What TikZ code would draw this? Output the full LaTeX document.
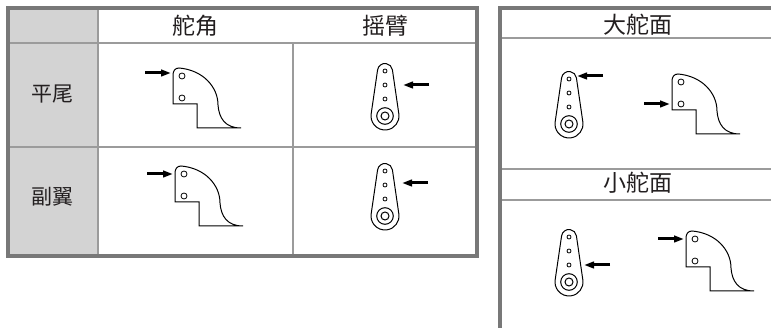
\documentclass[tikz,border=0pt]{standalone}
\usepackage{fontspec}
\setmainfont{Noto Sans CJK SC}
\usetikzlibrary{arrows.meta}

\definecolor{framegray}{RGB}{120,120,120}
\definecolor{linegray}{RGB}{155,155,155}
\definecolor{cellgray}{RGB}{211,211,211}
\definecolor{textdark}{RGB}{35,31,32}

\begin{document}
\begin{tikzpicture}[x=1pt, y=-1pt,
    every node/.style={font=\fontsize{23}{23}\selectfont, text=textdark, inner sep=0pt},
    frame/.style={draw=framegray, line width=4pt},
    grid/.style={draw=linegray, line width=1.3pt},
    push/.style={-{Triangle[length=10pt,width=6.5pt]}, line width=3pt},
    horn/.pic={
      \draw[line width=1pt] (-9,28) -- (15,28) -- (15,52) -- (59,52)
        .. controls (43,52) and (37,42) .. (36,29)
        .. controls (36,11) and (21,-6) .. (-3,-8)
        .. controls (-7,-8) and (-9,-5) .. (-9,-1) -- cycle;
      \draw[line width=0.8pt] (0,0) circle (3) (0,22) circle (3);
    },
    arm/.pic={
      \draw[line width=1pt] (188.3:7.5) arc[start angle=188.3, end angle=351.7, radius=7.5]
        -- (13.85,42.98) arc[start angle=-8.3, end angle=188.3, radius=14] -- cycle;
      \draw[line width=0.8pt] (0,0) circle (2) (0,14) circle (2) (0,28) circle (2);
      \draw[line width=1pt] (0,45) circle (8.3) (0,45) circle (4);
    }]
    \useasboundingbox (0,0) rectangle (771,328);

    % Left table: grey column, grid and frame
    \fill[cellgray] (8,8.5) rectangle (98,256.5);
    \draw[grid] (8,43) -- (477,43) (8,147) -- (477,147);
    \draw[grid] (98,8.5) -- (98,256.5) (293,43) -- (293,256.5);
    \draw[frame] (8,8.5) rectangle (477,256.5);

    % Right panel: open to the right and below
    \draw[grid] (500,38) -- (771,38) (500,169) -- (771,169) (500,200) -- (771,200);
    \draw[frame] (500,330) -- (500,8.5) -- (773,8.5);

    % Header and row labels
    \node (angle) at (195,26) {舵角};
    \node (horn)  at (385,26) {摇臂};
    \node[font=\fontsize{21}{21}\selectfont] (tail) at (52,94) {平尾};
    \node[font=\fontsize{21}{21}\selectfont] (wing) at (52,197) {副翼};
    \node (big)   at (638,25) {大舵面};
    \node (small) at (638,183) {小舵面};

    % Control horns (hole x/y, arrow height)
    \foreach \n/\x/\y/\a in {ha/182/76/-3, hb/184/174/0, hc/681/82/22, hd/695/239/0} {
        \pic at (\x,\y) {horn};
        \coordinate (\n) at (\x-11,\y+\a);
        \draw[push] (\x-37,\y+\a) -- (\n);
    }
    % Servo arms (top hole x/y, arrow height and start)
    \foreach \n/\x/\y/\a/\s in {aa/385/71/14/44, ab/385/171/12/43, ac/569/79/-3/34, ad/569/237/28/41} {
        \pic at (\x,\y) {arm};
        \coordinate (\n) at (\x+\s-26,\y+\a);
        \draw[push] (\x+\s,\y+\a) -- (\n);
    }
\end{tikzpicture}
\end{document}
